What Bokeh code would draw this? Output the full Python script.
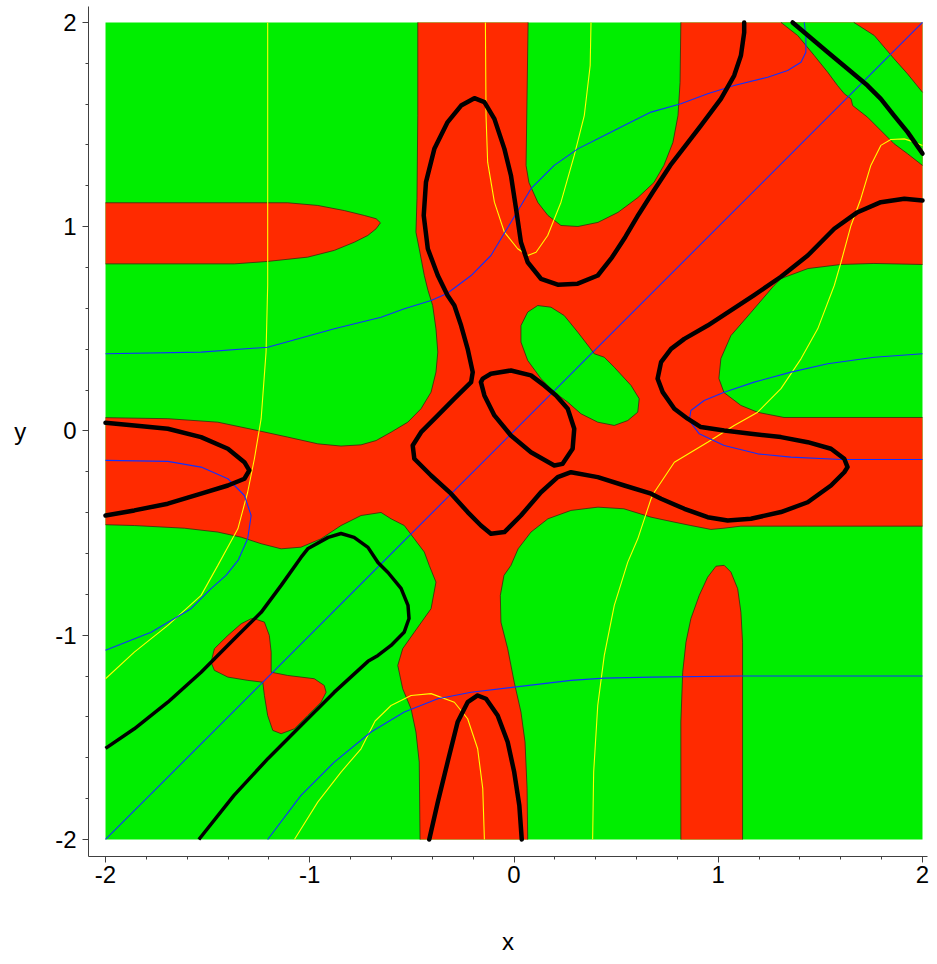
from bokeh.plotting import figure
from bokeh.models import Range1d, FixedTicker
from bokeh.embed import file_html
from bokeh.resources import INLINE

RED = "#ff2a00"
GREEN = "#00ee00"
BLUE = "#1030ff"
YELLOW = "#ffff00"
EDGE = "#3a2a10"

# domain of the region plot
dom_x = [-2.0, 2.0]
dom_y = [-2.0, 2.0]

major_ticks = [-2, -1, 0, 1, 2]
major_labels = ["-2", "-1", "0", "1", "2"]
minor_ticks = [-1.8, -1.6, -1.4, -1.2, -0.8, -0.6, -0.4, -0.2,
               0.2, 0.4, 0.6, 0.8, 1.2, 1.4, 1.6, 1.8]

# ---- red (positive) regions ----
red_main_x = [-0.471, 0.069, 0.059, 0.073, 0.117, 0.166, 0.230, 0.313, 0.411, 0.509,
              0.607, 0.685, 0.734, 0.778, 0.803, 0.813, 0.817, 2.0, 2.0, 1.762,
              1.601, 1.439, 1.307, 1.273, 1.160, 1.062, 1.013, 1.003, 1.028, 1.111,
              1.194, 1.322, 2.0, 2.0, 1.438, 1.111, 1.028, 0.964, 0.866, 0.783,
              0.671, 0.538, 0.411, 0.279, 0.166, 0.083, 0.020, -0.015, -0.049, -0.067,
              -0.064, -0.031, 0.001, 0.034, 0.054, 0.064, 0.067, -0.460, -0.464, -0.480,
              -0.504, -0.545, -0.569, -0.545, -0.488, -0.406, -0.382, -0.415, -0.439, -0.488,
              -0.537, -0.602, -0.651, -0.749, -0.847, -0.945, -1.043, -1.140, -1.238, -1.336,
              -1.450, -1.614, -1.859, -2.0, -2.0, -1.695, -1.450, -1.255, -1.108, -0.961,
              -0.847, -0.749, -0.675, -0.602, -0.520, -0.455, -0.406, -0.382, -0.373, -0.382,
              -0.398, -0.421, -0.439, -0.464, -0.480, -0.475, -0.471]
red_main_y = [2.0, 2.0, 1.300, 1.216, 1.118, 1.055, 1.006, 1.001, 1.021, 1.070,
              1.143, 1.216, 1.300, 1.412, 1.544, 1.706, 2.0, 2.0, 0.815, 0.820,
              0.815, 0.795, 0.746, 0.712, 0.580, 0.467, 0.355, 0.257, 0.188, 0.125,
              0.091, 0.066, 0.066, -0.466, -0.466, -0.466, -0.476, -0.482, -0.463, -0.446,
              -0.422, -0.381, -0.373, -0.389, -0.430, -0.495, -0.577, -0.658, -0.707, -0.805,
              -0.936, -1.066, -1.230, -1.376, -1.523, -1.750, -2.0, -2.0, -1.621, -1.474,
              -1.360, -1.262, -1.148, -1.066, -0.985, -0.870, -0.740, -0.658, -0.593, -0.528,
              -0.463, -0.430, -0.399, -0.414, -0.463, -0.528, -0.569, -0.577, -0.552, -0.520,
              -0.495, -0.476, -0.463, -0.459, 0.065, 0.060, 0.043, 0.002, -0.030, -0.063,
              -0.074, -0.068, -0.047, -0.006, 0.043, 0.109, 0.190, 0.288, 0.386, 0.500,
              0.614, 0.688, 0.761, 0.892, 0.973, 1.138, 1.544]

finger_left_x = [-2.0, -1.108, -0.961, -0.831, -0.733, -0.675, -0.654, -0.675, -0.716, -0.782,
                 -0.880, -1.010, -1.206, -1.369, -2.0]
finger_left_y = [1.117, 1.117, 1.104, 1.079, 1.055, 1.039, 1.019, 0.990, 0.957, 0.924,
                 0.884, 0.851, 0.830, 0.818, 0.818]

finger_bottom_x = [0.817, 0.817, 0.826, 0.842, 0.866, 0.907, 0.948, 0.989, 1.029, 1.062,
                   1.095, 1.111, 1.119, 1.119]
finger_bottom_y = [-2.0, -1.425, -1.181, -1.034, -0.919, -0.805, -0.716, -0.662, -0.658, -0.691,
                   -0.772, -0.887, -1.034, -2.0]

bowtie_x = [-1.271, -1.222, -1.198, -1.189, -1.189, -1.108, -0.978, -0.929, -0.920, -0.945,
            -1.010, -1.075, -1.140, -1.181, -1.206, -1.222, -1.230, -1.303, -1.401, -1.467,
            -1.483, -1.467, -1.401, -1.336, -1.287]
bowtie_y = [-0.919, -0.936, -1.001, -1.083, -1.181, -1.197, -1.213, -1.246, -1.279, -1.328,
            -1.393, -1.458, -1.482, -1.466, -1.393, -1.295, -1.230, -1.221, -1.205, -1.172,
            -1.132, -1.066, -1.001, -0.944, -0.919]

# ---- green islands inside the red region ----
blob_x = [0.034, 0.067, 0.116, 0.181, 0.246, 0.312, 0.369, 0.393, 0.442, 0.491,
          0.573, 0.613, 0.606, 0.557, 0.491, 0.410, 0.328, 0.263, 0.197, 0.132,
          0.067, 0.034]
blob_y = [0.516, 0.582, 0.614, 0.606, 0.565, 0.484, 0.410, 0.378, 0.361, 0.312,
          0.223, 0.158, 0.092, 0.051, 0.027, 0.043, 0.084, 0.141, 0.190, 0.256,
          0.345, 0.435]

band_x = [1.307, 1.664, 1.764, 1.861, 1.927, 2.0, 2.0, 1.927, 1.861, 1.796,
          1.731, 1.658, 1.650, 1.617, 1.584, 1.536, 1.470, 1.389]
band_y = [2.0, 2.0, 1.936, 1.822, 1.748, 1.658, 1.300, 1.357, 1.406, 1.471,
          1.536, 1.593, 1.626, 1.651, 1.691, 1.756, 1.838, 1.936]

# ---- thick black curves ----
k_left_x = [-2.0, -1.859, -1.695, -1.532, -1.401, -1.320, -1.296, -1.320, -1.401, -1.532, -1.695, -1.859, -2.0]
k_left_y = [0.040, 0.027, 0.011, -0.030, -0.087, -0.153, -0.193, -0.234, -0.267, -0.307, -0.356, -0.389, -0.414]

k_arch_x = [-0.415, -0.373, -0.325, -0.276, -0.227, -0.178, -0.137, -0.080, -0.031, 0.001, 0.026, 0.038]
k_arch_y = [-2.0, -1.817, -1.621, -1.425, -1.328, -1.295, -1.311, -1.393, -1.523, -1.670, -1.833, -2.0]

k_long_x = [1.127, 1.127, 1.111, 1.078, 1.013, 0.915, 0.850, 0.765, 0.680, 0.610,
            0.545, 0.480, 0.410, 0.312, 0.214, 0.132, 0.067, 0.034, 0.010, -0.015,
            -0.047, -0.096, -0.145, -0.194, -0.259, -0.325, -0.390, -0.431, -0.442, -0.422,
            -0.373, -0.325, -0.292, -0.259, -0.227, -0.202, -0.210, -0.292, -0.373, -0.455,
            -0.496, -0.488, -0.406, -0.308, -0.227, -0.162, -0.113, -0.047, 0.034, 0.132,
            0.214, 0.279, 0.410, 0.540, 0.671, 0.720, 0.834, 0.948, 1.046, 1.160,
            1.307, 1.438, 1.552, 1.617, 1.633, 1.617, 1.552, 1.438, 1.307, 1.160,
            1.029, 0.915, 0.850, 0.785, 0.728, 0.703, 0.720, 0.769, 0.834, 0.948,
            1.062, 1.176, 1.307, 1.438, 1.568, 1.682, 1.796, 1.911, 2.0]
k_long_y = [2.0, 1.951, 1.838, 1.740, 1.626, 1.495, 1.410, 1.300, 1.170, 1.060,
            0.950, 0.850, 0.761, 0.721, 0.716, 0.745, 0.826, 0.924, 1.088, 1.251,
            1.381, 1.528, 1.610, 1.629, 1.593, 1.512, 1.381, 1.218, 1.055, 0.892,
            0.761, 0.663, 0.614, 0.516, 0.402, 0.288, 0.239, 0.158, 0.076, -0.006,
            -0.071, -0.136, -0.218, -0.307, -0.397, -0.463, -0.503, -0.495, -0.414, -0.300,
            -0.226, -0.202, -0.226, -0.267, -0.307, -0.332, -0.381, -0.422, -0.438, -0.430,
            -0.397, -0.349, -0.267, -0.202, -0.177, -0.136, -0.087, -0.055, -0.030, -0.014,
            0.002, 0.019, 0.060, 0.109, 0.190, 0.256, 0.337, 0.402, 0.451, 0.516,
            0.590, 0.665, 0.755, 0.859, 0.990, 1.071, 1.120, 1.137, 1.128]

k_oval_x = [-0.162, -0.145, -0.096, -0.015, 0.083, 0.197, 0.238, 0.287, 0.295, 0.263,
            0.206, 0.148, 0.083, -0.015, -0.113, -0.153, -0.162]
k_oval_y = [0.239, 0.174, 0.076, -0.022, -0.104, -0.169, -0.161, -0.087, 0.011, 0.109,
            0.174, 0.223, 0.272, 0.296, 0.280, 0.256, 0.239]

k_corner_x = [1.364, 1.536, 1.633, 1.731, 1.796, 1.861, 1.927, 2.0]
k_corner_y = [2.0, 1.854, 1.773, 1.691, 1.626, 1.544, 1.463, 1.358]

k_hook_x = [-2.0, -1.859, -1.695, -1.532, -1.369, -1.238, -1.140, -1.043, -1.008, -0.910,
            -0.847, -0.783, -0.715, -0.666, -0.617, -0.553, -0.519, -0.514, -0.538, -0.602,
            -0.666, -0.715, -0.881, -1.043, -1.204, -1.371, -1.543]
k_hook_y = [-1.554, -1.458, -1.328, -1.181, -1.017, -0.888, -0.756, -0.619, -0.575, -0.521,
            -0.502, -0.521, -0.570, -0.644, -0.693, -0.771, -0.854, -0.918, -0.986, -1.050,
            -1.099, -1.128, -1.280, -1.442, -1.603, -1.784, -2.0]

# ---- thin blue curves ----
b_diag_x = [-2.0, 2.0]
b_diag_y = [-2.0, 2.0]

b_upper_x = [-2.0, -1.532, -1.206, -0.880, -0.651, -0.537, -0.406, -0.328, -0.210, -0.113,
             -0.015, 0.083, 0.197, 0.312, 0.442, 0.573, 0.671, 0.817, 0.948, 1.078,
             1.242, 1.340, 1.405, 1.429, 1.429, 1.421]
b_upper_y = [0.378, 0.386, 0.410, 0.500, 0.557, 0.598, 0.639, 0.673, 0.761, 0.859,
             1.022, 1.186, 1.300, 1.381, 1.446, 1.512, 1.561, 1.602, 1.651, 1.691,
             1.732, 1.765, 1.805, 1.854, 1.936, 2.0]

b_left_x = [-2.0, -1.695, -1.532, -1.401, -1.320, -1.287, -1.304, -1.351, -1.410, -1.483, -1.581, -1.777, -2.0]
b_left_y = [-0.144, -0.149, -0.177, -0.234, -0.316, -0.414, -0.528, -0.634, -0.707, -0.772, -0.870, -0.985, -1.074]

b_right_x = [2.0, 1.764, 1.536, 1.356, 1.176, 1.029, 0.931, 0.866, 0.858, 0.907, 1.029, 1.193, 1.356, 1.601, 2.0]
b_right_y = [0.378, 0.361, 0.329, 0.288, 0.239, 0.190, 0.149, 0.100, 0.051, -0.014, -0.071, -0.112, -0.128, -0.140, -0.140]

b_lower_x = [-1.206, -1.043, -0.880, -0.700, -0.537, -0.373, -0.210, 0.001, 0.279, 0.442, 0.671, 1.111, 2.0]
b_lower_y = [-2.0, -1.784, -1.621, -1.474, -1.376, -1.311, -1.279, -1.254, -1.221, -1.210, -1.205, -1.200, -1.200]

# ---- thin yellow curves ----
y_right_x = [0.385, 0.390, 0.410, 0.442, 0.491, 0.557, 0.606, 0.671, 0.687, 0.785,
             0.948, 1.078, 1.193, 1.307, 1.405, 1.487, 1.568, 1.601, 1.650, 1.698,
             1.747, 1.796, 1.845, 1.911, 1.960, 2.0]
y_right_y = [-2.0, -1.670, -1.344, -1.099, -0.854, -0.642, -0.528, -0.332, -0.300, -0.153,
             -0.055, 0.027, 0.092, 0.207, 0.353, 0.500, 0.712, 0.826, 1.006, 1.137,
             1.300, 1.398, 1.427, 1.430, 1.414, 1.398]

y_bottom_x = [-0.145, -0.153, -0.178, -0.227, -0.292, -0.406, -0.504, -0.602, -0.680, -0.749, -0.847, -0.961, -1.075]
y_bottom_y = [-2.0, -1.751, -1.556, -1.409, -1.328, -1.286, -1.295, -1.344, -1.420, -1.556, -1.670, -1.817, -2.0]

y_top_x = [0.377, 0.373, 0.344, 0.295, 0.230, 0.165, 0.108, 0.067, 0.018, -0.047, -0.096, -0.129, -0.137, -0.140]
y_top_y = [2.0, 1.789, 1.544, 1.349, 1.120, 0.957, 0.875, 0.859, 0.892, 0.973, 1.120, 1.316, 1.544, 2.0]

y_left_x = [-1.206, -1.206, -1.214, -1.238, -1.271, -1.304, -1.352, -1.450, -1.532, -1.695, -1.859, -2.0]
y_left_y = [2.0, 0.712, 0.386, 0.060, -0.136, -0.300, -0.479, -0.658, -0.805, -0.952, -1.083, -1.213]


def on_border(x0, y0, x1, y1):
    return (abs(x0) == 2.0 and x0 == x1) or (abs(y0) == 2.0 and y0 == y1)


def edge_runs(xs, ys):
    """Split a closed outline into the runs that are not on the domain border."""
    n = len(xs)
    start = next((i for i in range(n)
                  if on_border(xs[i], ys[i], xs[(i + 1) % n], ys[(i + 1) % n])), None)
    if start is None:
        return [list(xs) + [xs[0]]], [list(ys) + [ys[0]]]
    out_x, out_y, rx, ry = [], [], [], []
    for k in range(1, n + 1):
        i = (start + k) % n
        j = (i + 1) % n
        if on_border(xs[i], ys[i], xs[j], ys[j]):
            if rx:
                out_x.append(rx)
                out_y.append(ry)
                rx, ry = [], []
        else:
            if not rx:
                rx, ry = [xs[i]], [ys[i]]
            rx.append(xs[j])
            ry.append(ys[j])
    if rx:
        out_x.append(rx)
        out_y.append(ry)
    return out_x, out_y


p = figure(width=937, height=964,
           x_range=Range1d(-2.0833, 2.0245), y_range=Range1d(-2.0833, 2.078),
           output_backend="svg", toolbar_location=None,
           min_border_left=88, min_border_right=10, min_border_top=6, min_border_bottom=108)
p.background_fill_color = "white"
p.border_fill_color = "white"
p.outline_line_color = None
p.xgrid.visible = False
p.ygrid.visible = False

# green base over the whole domain
p.quad(left=[dom_x[0]], right=[dom_x[1]], bottom=[dom_y[0]], top=[dom_y[1]],
       fill_color=GREEN, line_color=None)

red_xs = [red_main_x, finger_left_x, finger_bottom_x, bowtie_x]
red_ys = [red_main_y, finger_left_y, finger_bottom_y, bowtie_y]
p.patches(red_xs, red_ys, fill_color=RED, line_color=None)

green_xs = [blob_x, band_x]
green_ys = [blob_y, band_y]
p.patches(green_xs, green_ys, fill_color=GREEN, line_color=None)

# thin dark rim along every red/green boundary
rim_x, rim_y = [], []
for xs, ys in zip(red_xs + green_xs, red_ys + green_ys):
    ex, ey = edge_runs(xs, ys)
    rim_x += ex
    rim_y += ey
p.multi_line(rim_x, rim_y, line_color=EDGE, line_width=1, line_alpha=0.8)

# thin level curves
p.multi_line([y_right_x, y_bottom_x, y_top_x, y_left_x],
             [y_right_y, y_bottom_y, y_top_y, y_left_y],
             line_color=YELLOW, line_width=1.1)
p.multi_line([b_diag_x, b_upper_x, b_left_x, b_right_x, b_lower_x],
             [b_diag_y, b_upper_y, b_left_y, b_right_y, b_lower_y],
             line_color=BLUE, line_width=1.1)

# thick zero curves
p.multi_line([k_left_x, k_arch_x, k_long_x, k_oval_x, k_corner_x],
             [k_left_y, k_arch_y, k_long_y, k_oval_y, k_corner_y],
             line_color="black", line_width=4.5, line_join="round", line_cap="round")
p.line(k_hook_x, k_hook_y, line_color="black", line_width=3.5, line_join="round")

ticker = FixedTicker(ticks=major_ticks, minor_ticks=minor_ticks)
for ax in (p.xaxis[0], p.yaxis[0]):
    ax.ticker = ticker
    ax.major_label_overrides = {t: s for t, s in zip(major_ticks, major_labels)}
    ax.axis_line_color = "#404040"
    ax.major_tick_line_color = "#404040"
    ax.minor_tick_line_color = "#404040"
    ax.major_tick_out = 6
    ax.major_tick_in = 0
    ax.minor_tick_out = 3
    ax.minor_tick_in = 0
    ax.major_label_text_font = "Liberation Sans"
    ax.major_label_text_font_size = "24px"
    ax.major_label_text_color = "black"
    ax.axis_label_text_font = "Liberation Sans"
    ax.axis_label_text_font_size = "24px"
    ax.axis_label_text_font_style = "normal"
    ax.axis_label_text_color = "black"

p.xaxis.axis_label = "x"
p.yaxis.axis_label = "y"
p.yaxis.axis_label_orientation = "horizontal"
p.xaxis.major_label_standoff = 3
p.yaxis.major_label_standoff = 6
p.xaxis.axis_label_standoff = 42
p.yaxis.axis_label_standoff = 26

open("out.html", "w").write(file_html(p, INLINE))
